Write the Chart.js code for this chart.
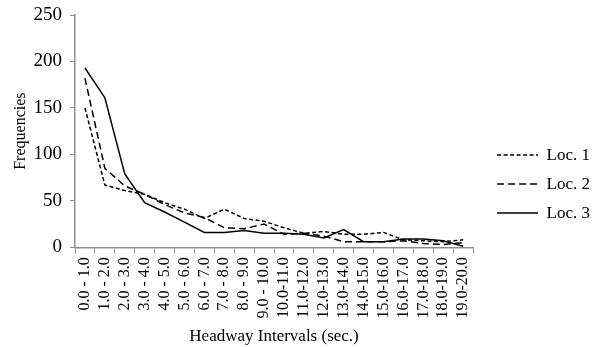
<!DOCTYPE html>
<html>
<head>
<meta charset="utf-8">
<script src="https://cdn.jsdelivr.net/npm/chart.js@4"></script>
<style>
  body { margin: 0; background: #fff; }
</style>
</head>
<body>
<canvas id="myChart" width="596" height="347"></canvas>
<script>
// headway interval categories
var intervals = ['0.0 - 1.0', '1.0 - 2.0', '2.0 - 3.0', '3.0 - 4.0', '4.0 - 5.0', '5.0 - 6.0',
    '6.0 - 7.0', '7.0 - 8.0', '8.0 - 9.0', '9.0 - 10.0', '10.0-11.0', '11.0-12.0', '12.0-13.0',
    '13.0-14.0', '14.0-15.0', '15.0-16.0', '16.0-17.0', '17.0-18.0', '18.0-19.0', '19.0-20.0'];

// frequencies per location
var loc1 = [150, 67, 61, 57, 48, 41, 31, 41, 31, 28, 21, 15, 17, 14, 14, 16, 8, 7, 6, 8];
var loc2 = [182, 85, 66, 57, 46, 37, 32, 21, 20, 25, 14, 15, 12, 6, 6, 6, 7, 4, 3, 5];
var loc3 = [193, 161, 79, 48, 38, 27, 16, 16, 18, 15, 15, 14, 10, 19, 6, 6, 9, 9, 7, 1];

var yTicks = [0, 50, 100, 150, 200, 250];

var serif = "'Liberation Serif', 'Times New Roman', serif";
var axisGray = '#8c8c8c';

var ctx = document.getElementById('myChart').getContext('2d');
var chart = new Chart(ctx, {
    type: 'line',
    data: {
        labels: intervals,
        datasets: [{
            label: 'Loc. 1',
            data: loc1,
            borderColor: '#000',
            backgroundColor: '#000',
            borderWidth: 1.5,
            borderDash: [4, 2.5],
            pointRadius: 0,
            tension: 0,
            fill: false
        }, {
            label: 'Loc. 2',
            data: loc2,
            borderColor: '#000',
            backgroundColor: '#000',
            borderWidth: 1.5,
            borderDash: [7, 4],
            pointRadius: 0,
            tension: 0,
            fill: false
        }, {
            label: 'Loc. 3',
            data: loc3,
            borderColor: '#000',
            backgroundColor: '#000',
            borderWidth: 1.5,
            pointRadius: 0,
            tension: 0,
            fill: false
        }]
    },
    options: {
        responsive: false,
        animation: false,
        layout: { padding: { left: 0, right: -4, top: 0, bottom: 0 } },
        plugins: {
            tooltip: { enabled: false },
            legend: {
                position: 'right',
                maxWidth: 200,
                // empty title only pushes the entries a little lower
                title: { display: true, text: ' ', padding: 10, font: { size: 1 } },
                labels: {
                    usePointStyle: true,
                    pointStyle: 'line',
                    pointStyleWidth: 41,
                    boxHeight: 2,
                    padding: 12,
                    color: '#000',
                    font: { family: serif, size: 17 },
                    generateLabels: function (chart) {
                        var items = Chart.defaults.plugins.legend.labels.generateLabels(chart);
                        items.forEach(function (item) {
                            var ds = chart.data.datasets[item.datasetIndex];
                            item.lineDash = ds.borderDash || [];
                            item.lineWidth = ds.borderWidth;
                            item.strokeStyle = ds.borderColor;
                        });
                        return items;
                    }
                }
            }
        },
        scales: {
            x: {
                offset: true,
                grid: {
                    offset: true,
                    drawOnChartArea: false,
                    drawTicks: true,
                    tickLength: 6,
                    color: axisGray
                },
                border: { color: axisGray, width: 1.5 },
                ticks: {
                    autoSkip: false,
                    minRotation: 90,
                    maxRotation: 90,
                    color: '#000',
                    padding: 4,
                    font: { family: serif, size: 16 }
                },
                title: {
                    display: true,
                    text: 'Headway Intervals (sec.)',
                    color: '#000',
                    padding: { top: 4, bottom: 0 },
                    font: { family: serif, size: 17 }
                }
            },
            y: {
                min: 0,
                max: 250,
                afterBuildTicks: function (axis) {
                    axis.ticks = yTicks.map(function (v) { return { value: v }; });
                },
                afterFit: function (scale) {
                    scale.width = 75;
                    scale.paddingTop = 15;
                },
                grid: {
                    drawOnChartArea: false,
                    tickLength: 5,
                    color: axisGray
                },
                border: { color: axisGray, width: 1.5 },
                ticks: {
                    color: '#000',
                    padding: 8,
                    font: { family: serif, size: 19 }
                },
                title: {
                    display: true,
                    text: 'Frequencies',
                    color: '#000',
                    padding: { top: 11, bottom: 0 },
                    font: { family: serif, size: 16 }
                }
            },
            // empty right axis, just leaves a gap before the legend
            gap: {
                type: 'linear',
                position: 'right',
                display: true,
                grid: { display: false },
                border: { display: false },
                ticks: { display: false },
                afterFit: function (scale) { scale.width = 12; }
            }
        }
    }
});
</script>
</body>
</html>
